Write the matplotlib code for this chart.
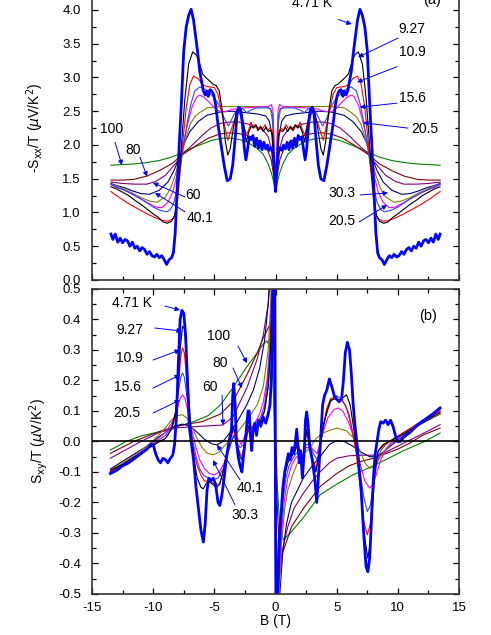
import numpy as np
import matplotlib.pyplot as plt
from matplotlib.ticker import MultipleLocator, FormatStrFormatter

plt.rcParams['font.family'] = ['Liberation Sans', 'DejaVu Sans']
plt.rcParams['axes.unicode_minus'] = False

# temperatures and colours (4.71 K drawn thick)
temps = ['100', '80', '60', '40.1', '30.3', '20.5', '15.6', '10.9', '9.27', '4.71']
colors = ['#008000', '#800000', '#800080', '#000080', '#808000',
          '#ff00ff', '#3344ff', '#ff0000', '#000000', '#0000ff']

# ---- panel (a): -Sxx/T, read on B >= 0 (curves are even in B) ----
sxx_100_b = [0, 0.15, 0.33, 0.6, 1.0, 1.5, 2.2, 2.9, 3.6, 4.4, 5.2, 6.2, 7.0, 7.7, 8.5, 9.5, 10.5, 11.5, 12.5, 13.45]
sxx_100 = [1.31, 1.45, 1.58, 1.72, 1.86, 1.95, 2.03, 2.08, 2.1, 2.1, 2.07, 2.0, 1.94, 1.88, 1.82, 1.77, 1.74, 1.72, 1.71, 1.70]
sxx_80_b = [0, 0.15, 0.35, 0.7, 1.2, 2.0, 3.0, 3.8, 4.6, 5.5, 6.5, 7.5, 8.5, 9.5, 10.5, 11.6, 12.5, 13.45]
sxx_80 = [1.31, 1.55, 1.78, 1.95, 2.05, 2.12, 2.17, 2.18, 2.16, 2.1, 1.99, 1.87, 1.72, 1.62, 1.54, 1.49, 1.48, 1.48]
sxx_60_b = [0, 0.15, 0.35, 0.6, 1.0, 2.0, 3.0, 3.8, 4.5, 5.3, 6.0, 6.8, 7.5, 8.2, 9.0, 9.8, 10.5, 11.5, 12.5, 13.45]
sxx_60 = [1.31, 1.62, 1.95, 2.12, 2.22, 2.3, 2.34, 2.34, 2.32, 2.25, 2.14, 2.0, 1.88, 1.72, 1.55, 1.46, 1.42, 1.42, 1.43, 1.45]
sxx_40_b = [0, 0.12, 0.3, 0.5, 0.8, 1.5, 2.5, 3.5, 4.5, 5.6, 6.3, 7.0, 7.4, 7.8, 8.3, 8.8, 9.5, 10.3, 11.0, 11.7, 12.4, 13.0, 13.45]
sxx_40 = [1.31, 1.7, 2.15, 2.35, 2.43, 2.46, 2.48, 2.5, 2.49, 2.44, 2.35, 2.2, 2.05, 1.85, 1.62, 1.45, 1.33, 1.27, 1.28, 1.32, 1.37, 1.4, 1.43]
sxx_30_b = [0, 0.1, 0.25, 0.4, 0.6, 1.5, 3.0, 4.5, 5.6, 6.2, 6.6, 7.0, 7.4, 7.8, 8.2, 8.6, 9.0, 9.7, 10.3, 11.0, 11.6, 12.2, 12.8, 13.45]
sxx_30 = [1.31, 1.8, 2.35, 2.52, 2.56, 2.57, 2.57, 2.57, 2.55, 2.48, 2.42, 2.3, 2.05, 1.82, 1.55, 1.35, 1.23, 1.15, 1.17, 1.22, 1.28, 1.33, 1.38, 1.42]
sxx_20_b = [0, 0.1, 0.2, 0.33, 0.6, 1.5, 2.5, 3.5, 4.0, 4.53, 5.0, 5.35, 5.8, 6.17, 6.4, 6.8, 7.2, 7.5, 7.8, 8.1, 8.4, 8.8, 9.3, 9.8, 10.5, 11.0, 11.5, 12.0, 12.5, 13.0, 13.45]
sxx_20 = [1.31, 1.95, 2.5, 2.6, 2.57, 2.56, 2.55, 2.53, 2.5, 2.49, 2.55, 2.62, 2.7, 2.74, 2.72, 2.58, 2.3, 2.05, 1.8, 1.52, 1.3, 1.15, 1.07, 1.08, 1.15, 1.2, 1.25, 1.3, 1.34, 1.37, 1.41]
sxx_15_b = [0, 0.1, 0.25, 0.4, 0.8, 1.5, 2.0, 2.35, 2.7, 3.03, 3.4, 3.85, 4.2, 4.53, 5.0, 5.35, 5.8, 6.2, 6.6, 6.9, 7.2, 7.5, 7.75, 8.0, 8.3, 8.6, 8.9, 9.4, 10.0, 10.5, 11.0, 11.5, 12.0, 12.5, 13.0, 13.45]
sxx_15 = [1.31, 1.9, 2.45, 2.54, 2.55, 2.55, 2.52, 2.48, 2.54, 2.56, 2.45, 2.28, 2.4, 2.57, 2.7, 2.76, 2.83, 2.86, 2.8, 2.62, 2.35, 2.0, 1.7, 1.4, 1.15, 1.04, 1.01, 1.03, 1.08, 1.14, 1.2, 1.25, 1.3, 1.34, 1.38, 1.42]
sxx_10_b = [0, 0.1, 0.25, 0.45, 0.65, 0.85, 1.05, 1.25, 1.45, 1.65, 1.85, 2.0, 2.2, 2.4, 2.6, 3.0, 3.4, 3.9, 4.3, 4.7, 5.0, 5.35, 5.7, 6.0, 6.3, 6.7, 7.0, 7.3, 7.55, 7.8, 8.0, 8.2, 8.45, 8.8, 9.2, 9.8, 10.5, 11.2, 11.9, 12.6, 13.45]
sxx_10 = [1.31, 1.8, 2.2, 2.25, 2.22, 2.3, 2.24, 2.28, 2.21, 2.3, 2.26, 2.34, 2.22, 2.15, 2.3, 2.5, 2.35, 2.07, 2.4, 2.75, 2.85, 2.86, 2.87, 2.9, 2.98, 3.02, 2.9, 2.55, 2.1, 1.6, 1.2, 0.97, 0.9, 0.87, 0.88, 0.92, 0.98, 1.05, 1.12, 1.2, 1.31]
sxx_9_b = [0, 0.1, 0.25, 0.4, 0.6, 0.8, 1.0, 1.2, 1.4, 1.6, 1.8, 2.0, 2.2, 2.4, 2.6, 2.8, 3.0, 3.2, 3.45, 3.7, 3.9, 4.1, 4.35, 4.6, 4.85, 5.1, 5.4, 5.7, 5.95, 6.2, 6.45, 6.77, 7.1, 7.4, 7.65, 7.85, 8.05, 8.25, 8.5, 8.85, 9.2, 9.6, 10.0, 10.5, 11.0, 11.5, 12.0, 12.5, 13.0, 13.45]
sxx_9 = [1.31, 1.75, 2.15, 2.22, 2.2, 2.26, 2.2, 2.27, 2.22, 2.3, 2.25, 2.28, 2.18, 2.05, 2.3, 2.5, 2.56, 2.5, 2.25, 1.95, 1.85, 2.05, 2.5, 2.8, 2.88, 2.9, 2.95, 3.0, 3.05, 3.2, 3.33, 3.38, 3.2, 2.7, 2.1, 1.6, 1.2, 0.95, 0.87, 0.84, 0.86, 0.93, 0.98, 1.05, 1.12, 1.18, 1.25, 1.3, 1.35, 1.38]
sxx_4_b = [0, 0.08, 0.2, 0.35, 0.5, 0.65, 0.8, 0.95, 1.1, 1.25, 1.4, 1.55, 1.7, 1.85, 2.0, 2.15, 2.3, 2.42, 2.55, 2.7, 2.85, 3.0, 3.15, 3.3, 3.5, 3.7, 3.95, 4.2, 4.45, 4.7, 4.9, 5.05, 5.2, 5.35, 5.5, 5.6, 5.75, 5.9, 6.05, 6.2, 6.35, 6.5, 6.7, 6.9, 7.1, 7.3, 7.5, 7.7, 7.9, 8.05, 8.2, 8.35, 8.5, 8.7, 8.9, 9.1, 9.3, 9.5, 9.7, 9.9, 10.1, 10.3, 10.5, 10.7, 10.9, 11.1, 11.3, 11.5, 11.7, 11.9, 12.1, 12.3, 12.5, 12.7, 12.9, 13.1, 13.3, 13.45]
sxx_4 = [1.31, 1.6, 1.88, 1.96, 1.92, 2.0, 1.94, 2.04, 1.93, 2.06, 1.95, 2.1, 1.98, 2.14, 2.08, 2.12, 1.92, 1.78, 1.95, 2.3, 2.52, 2.56, 2.45, 2.1, 1.7, 1.5, 1.47, 1.7, 2.0, 2.3, 2.6, 2.74, 2.8, 2.82, 2.72, 2.8, 2.74, 2.8, 2.95, 3.1, 3.35, 3.56, 3.85, 4.01, 3.92, 3.75, 3.4, 2.6, 1.9, 1.3, 0.7, 0.4, 0.33, 0.3, 0.23, 0.3, 0.36, 0.33, 0.38, 0.34, 0.36, 0.42, 0.38, 0.45, 0.48, 0.43, 0.5, 0.47, 0.56, 0.5, 0.58, 0.6, 0.55, 0.62, 0.56, 0.68, 0.6, 0.68]

# ---- panel (b): Sxy/T over the full field range ----
sxy_100_b = [-13.5, -12.2, -11, -9.7, -8.5, -7.5, -6.5, -5.5, -4.5, -3.5, -2.35, -1.5, -1.0, -0.7, -0.45, -0.25, -0.1, 0, 0.15, 0.35, 0.64, 1.2, 2.27, 3.64, 5.0, 6.3, 7.7, 9.0, 10.45, 12.2, 13.45]
sxy_100 = [-0.028, 0.0, 0.018, 0.03, 0.045, 0.055, 0.068, 0.085, 0.12, 0.175, 0.245, 0.29, 0.32, 0.33, 0.31, 0.22, 0.1, 0.0, -0.15, -0.28, -0.323, -0.3, -0.25, -0.175, -0.14, -0.11, -0.085, -0.06, -0.03, 0.0, 0.028]
sxy_80_b = [-13.5, -11.6, -10, -8.5, -7.5, -6, -4.5, -3.5, -2.35, -1.5, -1.0, -0.5, -0.3, -0.15, 0, 0.15, 0.3, 0.45, 0.8, 1.3, 2.27, 3.64, 5.0, 6.0, 7.0, 8.0, 9.0, 10.0, 11.0, 12.0, 13.45]
sxy_80 = [-0.039, 0.0, 0.025, 0.045, 0.055, 0.065, 0.09, 0.13, 0.218, 0.29, 0.34, 0.38, 0.33, 0.2, 0.0, -0.22, -0.34, -0.378, -0.34, -0.28, -0.22, -0.148, -0.105, -0.08, -0.065, -0.055, -0.04, -0.025, -0.005, 0.02, 0.044]
sxy_60_b = [-13.5, -11.0, -9.5, -8, -6, -4.3, -3.5, -2.35, -1.5, -1.0, -0.6, -0.4, -0.2, 0.15, 0.3, 0.6, 1.0, 1.5, 2.27, 3.0, 3.64, 4.4, 5.0, 6.0, 7.0, 8.0, 8.8, 9.5, 10.5, 11.5, 12.5, 13.45]
sxy_60 = [-0.055, 0.0, 0.03, 0.045, 0.05, 0.054, 0.08, 0.175, 0.27, 0.35, 0.45, 0.55, 0.8, -0.6, -0.45, -0.35, -0.28, -0.22, -0.17, -0.13, -0.1, -0.07, -0.055, -0.047, -0.045, -0.045, -0.04, -0.025, -0.005, 0.015, 0.035, 0.055]
sxy_40_b = [-13.5, -12.5, -11.5, -10.5, -9.7, -9, -8.3, -7.6, -7.0, -6.4, -5.8, -5.2, -4.8, -4.3, -3.8, -3.2, -2.35, -1.8, -1.3, -0.9, -0.6, -0.4, -0.25, 0.12, 0.35, 0.6, 0.9, 1.3, 2.27, 3.0, 3.64, 4.4, 5.0, 5.6, 6.3, 7.0, 7.7, 8.3, 8.8, 9.4, 10.0, 11.0, 12.0, 13.45]
sxy_40 = [-0.09, -0.065, -0.04, -0.015, 0.01, 0.03, 0.05, 0.057, 0.05, 0.03, 0.007, -0.008, -0.011, 0.0, 0.025, 0.06, 0.12, 0.17, 0.24, 0.33, 0.45, 0.6, 0.8, -0.8, -0.5, -0.36, -0.27, -0.2, -0.12, -0.08, -0.05, -0.01, 0.003, 0.0, -0.015, -0.035, -0.05, -0.05, -0.035, -0.015, 0.005, 0.035, 0.06, 0.09]
sxy_30_b = [-13.5, -12.5, -11.5, -10.5, -9.7, -9, -8.5, -8, -7.6, -7.2, -6.8, -6.4, -6.0, -5.6, -5.1, -4.6, -4.2, -3.5, -2.35, -1.5, -1.0, -0.6, -0.4, -0.25, 0.1, 0.3, 0.5, 0.75, 1.0, 1.4, 1.8, 2.3, 2.8, 3.3, 4.0, 5.0, 5.8, 6.4, 6.9, 7.3, 7.7, 8.1, 8.5, 9.0, 9.5, 10.2, 11.0, 12.0, 13.45]
sxy_30 = [-0.095, -0.07, -0.045, -0.015, 0.015, 0.045, 0.07, 0.085, 0.088, 0.075, 0.045, 0.01, -0.02, -0.038, -0.044, -0.035, -0.015, 0.01, 0.07, 0.12, 0.18, 0.3, 0.45, 0.7, -0.8, -0.5, -0.33, -0.22, -0.16, -0.11, -0.07, -0.04, -0.022, 0.01, 0.03, 0.044, 0.035, 0.01, -0.03, -0.07, -0.088, -0.08, -0.055, -0.025, 0.0, 0.02, 0.04, 0.065, 0.09]
sxy_20_b = [-13.5, -12.5, -11.5, -10.5, -9.7, -9, -8.5, -8.1, -7.8, -7.6, -7.4, -7.1, -6.8, -6.5, -6.2, -5.8, -5.4, -5.0, -4.6, -4.2, -3.9, -3.6, -3.4, -3.1, -2.8, -2.5, -2.1, -1.7, -1.3, -1.0, -0.7, -0.5, -0.35, -0.22, 0.08, 0.3, 0.5, 0.7, 1.0, 1.3, 1.7, 2.1, 2.5, 2.9, 3.4, 3.8, 4.3, 4.8, 5.1, 5.5, 6.0, 6.5, 6.9, 7.3, 7.7, 8.0, 8.3, 8.6, 9.0, 9.4, 10.0, 11.0, 12.0, 13.45]
sxy_20 = [-0.1, -0.075, -0.048, -0.02, 0.005, 0.03, 0.06, 0.1, 0.14, 0.153, 0.14, 0.09, 0.03, -0.02, -0.06, -0.09, -0.105, -0.11, -0.1, -0.07, -0.03, 0.0, 0.02, 0.01, -0.01, 0.02, 0.04, 0.06, 0.09, 0.13, 0.2, 0.3, 0.45, 0.7, -0.8, -0.45, -0.3, -0.2, -0.12, -0.08, -0.05, -0.06, -0.02, -0.02, -0.04, 0.02, 0.08, 0.105, 0.11, 0.1, 0.06, 0.0, -0.07, -0.13, -0.153, -0.14, -0.1, -0.06, -0.03, -0.01, 0.01, 0.04, 0.07, 0.1]
sxy_15_b = [-13.5, -12.5, -11.5, -10.5, -9.7, -9, -8.5, -8.2, -7.95, -7.75, -7.6, -7.45, -7.25, -7.0, -6.8, -6.5, -6.2, -5.9, -5.5, -5.1, -4.7, -4.3, -4.0, -3.7, -3.45, -3.2, -2.9, -2.6, -2.3, -2.0, -1.6, -1.2, -0.9, -0.65, -0.45, -0.3, -0.15, 0.05, 0.25, 0.4, 0.6, 0.85, 1.1, 1.5, 1.9, 2.2, 2.5, 2.8, 3.1, 3.4, 3.7, 4.1, 4.5, 5.0, 5.4, 5.8, 6.2, 6.6, 6.9, 7.2, 7.5, 7.75, 8.0, 8.3, 8.6, 9.0, 9.5, 10.3, 11.3, 12.4, 13.45]
sxy_15 = [-0.1, -0.078, -0.05, -0.022, 0.0, 0.02, 0.05, 0.09, 0.16, 0.21, 0.225, 0.21, 0.15, 0.07, 0.01, -0.05, -0.09, -0.11, -0.12, -0.125, -0.12, -0.09, -0.05, -0.015, 0.02, 0.0, -0.02, -0.01, 0.03, 0.04, 0.06, 0.08, 0.12, 0.2, 0.32, 0.5, 0.8, -0.8, -0.5, -0.33, -0.2, -0.12, -0.08, -0.05, -0.03, -0.05, -0.01, -0.01, -0.04, -0.06, 0.0, 0.08, 0.13, 0.15, 0.14, 0.11, 0.05, -0.03, -0.1, -0.18, -0.23, -0.21, -0.14, -0.07, -0.03, -0.01, 0.005, 0.025, 0.05, 0.08, 0.105]
sxy_10_b = [-13.5, -12.5, -11.5, -10.5, -9.7, -9, -8.5, -8.2, -7.95, -7.75, -7.6, -7.45, -7.3, -7.1, -6.9, -6.7, -6.4, -6.1, -5.8, -5.5, -5.2, -4.9, -4.6, -4.35, -4.1, -3.8, -3.45, -3.2, -2.9, -2.75, -2.5, -2.2, -1.9, -1.5, -1.2, -0.9, -0.6, -0.4, -0.25, -0.12, 0.05, 0.25, 0.4, 0.6, 0.8, 1.0, 1.3, 1.6, 1.85, 2.05, 2.2, 2.4, 2.55, 2.75, 3.0, 3.3, 3.6, 3.9, 4.2, 4.5, 4.8, 5.1, 5.4, 5.7, 6.0, 6.3, 6.6, 6.9, 7.2, 7.5, 7.75, 7.95, 8.15, 8.4, 8.8, 9.3, 9.8, 10.5, 11.5, 12.5, 13.45]
sxy_10 = [-0.1, -0.078, -0.052, -0.025, -0.005, 0.01, 0.04, 0.08, 0.17, 0.28, 0.307, 0.29, 0.22, 0.12, 0.03, -0.03, -0.08, -0.11, -0.13, -0.13, -0.135, -0.14, -0.14, -0.11, -0.06, -0.01, 0.04, 0.0, -0.04, -0.05, -0.01, 0.04, 0.03, 0.05, 0.07, 0.1, 0.18, 0.32, 0.52, 0.8, -0.8, -0.45, -0.27, -0.16, -0.1, -0.07, -0.05, -0.03, -0.01, -0.05, -0.07, -0.01, 0.03, 0.0, -0.05, -0.09, -0.03, 0.05, 0.11, 0.14, 0.145, 0.13, 0.135, 0.12, 0.09, 0.03, -0.04, -0.14, -0.26, -0.306, -0.27, -0.17, -0.08, -0.03, -0.015, 0.0, 0.012, 0.03, 0.055, 0.078, 0.1]
sxy_9_b = [-13.5, -12.5, -11.5, -10.5, -9.7, -9, -8.5, -8.2, -8.0, -7.8, -7.6, -7.45, -7.3, -7.1, -6.9, -6.7, -6.4, -6.1, -5.9, -5.7, -5.5, -5.3, -5.0, -4.8, -4.55, -4.3, -4.0, -3.75, -3.6, -3.45, -3.3, -3.1, -2.9, -2.75, -2.6, -2.4, -2.2, -2.0, -1.8, -1.5, -1.2, -0.9, -0.6, -0.4, -0.25, -0.12, 0.1, 0.25, 0.4, 0.6, 0.8, 1.0, 1.3, 1.6, 1.8, 2.0, 2.2, 2.4, 2.55, 2.7, 3.0, 3.3, 3.6, 3.9, 4.2, 4.5, 4.8, 5.1, 5.4, 5.8, 6.1, 6.4, 6.7, 7.0, 7.3, 7.55, 7.75, 7.95, 8.15, 8.4, 8.8, 9.3, 10.0, 10.5, 11.5, 12.5, 13.45]
sxy_9 = [-0.095, -0.075, -0.05, -0.025, -0.005, 0.01, 0.04, 0.09, 0.16, 0.3, 0.378, 0.37, 0.3, 0.16, 0.03, -0.05, -0.12, -0.15, -0.155, -0.14, -0.13, -0.135, -0.145, -0.15, -0.14, -0.1, -0.04, 0.0, 0.02, 0.05, 0.03, -0.02, -0.05, -0.06, -0.03, 0.02, 0.05, 0.03, 0.04, 0.05, 0.07, 0.1, 0.18, 0.3, 0.5, 0.8, -0.8, -0.45, -0.28, -0.17, -0.1, -0.07, -0.05, -0.03, 0.0, -0.04, -0.08, 0.0, 0.04, 0.0, -0.06, -0.1, -0.03, 0.05, 0.1, 0.135, 0.14, 0.135, 0.14, 0.153, 0.12, 0.04, -0.05, -0.17, -0.32, -0.383, -0.33, -0.2, -0.09, -0.03, -0.01, 0.0, 0.015, 0.025, 0.05, 0.075, 0.095]
sxy_4_b = [-13.5, -13, -12.5, -12, -11.5, -11, -10.5, -10.2, -10.0, -9.8, -9.6, -9.4, -9.2, -9.0, -8.8, -8.6, -8.4, -8.25, -8.1, -7.95, -7.8, -7.65, -7.5, -7.35, -7.2, -7.05, -6.9, -6.7, -6.5, -6.3, -6.1, -5.9, -5.75, -5.6, -5.45, -5.3, -5.1, -4.9, -4.7, -4.55, -4.4, -4.2, -4.0, -3.8, -3.6, -3.5, -3.42, -3.3, -3.2, -3.05, -2.9, -2.75, -2.6, -2.4, -2.25, -2.15, -2.05, -1.95, -1.85, -1.7, -1.55, -1.4, -1.2, -1.0, -0.8, -0.6, -0.45, -0.35, -0.25, -0.15, -0.08, 0.05, 0.15, 0.3, 0.45, 0.6, 0.75, 0.9, 1.05, 1.2, 1.35, 1.5, 1.6, 1.73, 1.85, 1.95, 2.05, 2.2, 2.35, 2.45, 2.55, 2.65, 2.8, 3.0, 3.2, 3.37, 3.5, 3.7, 3.85, 4.0, 4.2, 4.4, 4.6, 4.8, 5.0, 5.2, 5.4, 5.55, 5.7, 5.87, 6.05, 6.2, 6.35, 6.5, 6.64, 6.8, 7.0, 7.2, 7.4, 7.55, 7.7, 7.85, 8.0, 8.15, 8.3, 8.45, 8.6, 8.8, 9.0, 9.2, 9.4, 9.6, 9.8, 9.95, 10.2, 10.5, 11, 11.5, 12, 12.5, 13, 13.45]
sxy_4 = [-0.105, -0.095, -0.08, -0.07, -0.055, -0.04, -0.025, -0.01, -0.01, -0.04, -0.06, -0.07, -0.055, -0.06, -0.07, -0.055, -0.045, -0.01, 0.08, 0.25, 0.4, 0.43, 0.42, 0.35, 0.2, 0.05, 0.0, -0.06, -0.15, -0.22, -0.29, -0.33, -0.27, -0.16, -0.12, -0.13, -0.12, -0.14, -0.2, -0.21, -0.18, -0.12, -0.05, 0.0, 0.04, 0.15, 0.19, 0.12, 0.0, -0.05, -0.08, -0.1, -0.04, 0.03, 0.1, 0.1, 0.02, -0.03, 0.03, 0.06, 0.02, 0.07, 0.05, 0.08, 0.06, 0.09, 0.12, 0.2, 0.35, 0.55, 0.8, -0.8, -0.5, -0.33, -0.24, -0.15, -0.1, -0.07, -0.04, -0.06, -0.02, -0.04, -0.01, 0.04, -0.02, -0.07, -0.03, -0.12, -0.03, 0.07, 0.097, 0.06, -0.02, -0.06, -0.12, -0.2, -0.12, 0.02, 0.12, 0.15, 0.17, 0.205, 0.18, 0.15, 0.14, 0.13, 0.14, 0.2, 0.29, 0.325, 0.3, 0.22, 0.12, 0.05, 0.0, -0.07, -0.16, -0.3, -0.41, -0.427, -0.38, -0.25, -0.12, -0.04, 0.0, 0.04, 0.065, 0.06, 0.07, 0.055, 0.07, 0.05, 0.02, 0.0, 0.0, 0.015, 0.03, 0.05, 0.065, 0.08, 0.095, 0.11]

sxx_b = [sxx_100_b, sxx_80_b, sxx_60_b, sxx_40_b, sxx_30_b, sxx_20_b, sxx_15_b, sxx_10_b, sxx_9_b, sxx_4_b]
sxx_v = [sxx_100, sxx_80, sxx_60, sxx_40, sxx_30, sxx_20, sxx_15, sxx_10, sxx_9, sxx_4]
sxy_b = [sxy_100_b, sxy_80_b, sxy_60_b, sxy_40_b, sxy_30_b, sxy_20_b, sxy_15_b, sxy_10_b, sxy_9_b, sxy_4_b]
sxy_v = [sxy_100, sxy_80, sxy_60, sxy_40, sxy_30, sxy_20, sxy_15, sxy_10, sxy_9, sxy_4]

fig = plt.figure(figsize=(4.91, 6.35), dpi=100)
ax1 = fig.add_axes([0.1874, 0.5591, 0.7475, 0.4783])
ax2 = fig.add_axes([0.1874, 0.0646, 0.7475, 0.4803])

for i in range(len(temps)):
    lw = 2.0 if temps[i] == '4.71' else 0.8
    b = np.array(sxx_b[i])
    v = np.array(sxx_v[i])
    ax1.plot(np.concatenate([-b[::-1], b[1:]]), np.concatenate([v[::-1], v[1:]]),
             color=colors[i], lw=lw)
    ax2.plot(sxy_b[i], sxy_v[i], color=colors[i], lw=lw)

ax2.axhline(0, color='black', lw=1.2, zorder=3)

for ax in (ax1, ax2):
    ax.set_xlim(-15, 15)
    ax.xaxis.set_major_locator(MultipleLocator(5))
    ax.xaxis.set_minor_locator(MultipleLocator(2.5))
    ax.tick_params(which='both', direction='in', top=True, right=True, labelsize=9.5)
    ax.tick_params(which='major', length=4.3, width=0.9)
    ax.tick_params(which='minor', length=2.9, width=0.9)
    ax.tick_params(axis='y', pad=8)
    for s in ax.spines.values():
        s.set_linewidth(1.2)
        s.set_color('#333333')

ax1.set_ylim(0, 4.5)
ax1.yaxis.set_major_locator(MultipleLocator(0.5))
ax1.yaxis.set_minor_locator(MultipleLocator(0.25))
ax1.yaxis.set_major_formatter(FormatStrFormatter('%.1f'))
ax1.tick_params(labelbottom=False)
ax1.set_ylabel(r'-S$_{\rm xx}$/T ($\mu$V/K$^2$)', fontsize=10)
ax1.yaxis.set_label_coords(-0.125, 0.5)

ax2.set_ylim(-0.5, 0.5)
ax2.yaxis.set_major_locator(MultipleLocator(0.1))
ax2.yaxis.set_minor_locator(MultipleLocator(0.05))
ax2.yaxis.set_major_formatter(FormatStrFormatter('%.1f'))
ax2.tick_params(axis='x', pad=6)
ax2.set_ylabel(r'S$_{\rm xy}$/T ($\mu$V/K$^2$)', fontsize=10)
ax2.yaxis.set_label_coords(-0.115, 0.5)
ax2.set_xlabel('B (T)', fontsize=10)
ax2.xaxis.set_label_coords(0.5, -0.066)

arrow = dict(arrowstyle='-|>', color='#0000ff', lw=0.7, mutation_scale=7,
             shrinkA=0, shrinkB=0)

# panel (a) labels: (text, text x, text y, tail x, tail y, head x, head y)
labels_a = [('4.71 K', 3.0, 4.10, 5.13, 3.86, 6.23, 3.79),
            ('9.27', 11.16, 3.72, 10.02, 3.585, 6.75, 3.30),
            ('10.9', 11.16, 3.38, 9.93, 3.16, 6.66, 2.93),
            ('15.6', 11.16, 2.70, 9.93, 2.62, 6.91, 2.56),
            ('20.5', 12.22, 2.24, 10.83, 2.25, 7.15, 2.33),
            ('100', -13.37, 2.24, -13.12, 2.04, -12.55, 1.70),
            ('80', -11.65, 1.93, -11.08, 1.82, -10.5, 1.53),
            ('60', -6.75, 1.26, -7.40, 1.23, -10.02, 1.44),
            ('40.1', -6.17, 0.92, -7.40, 1.01, -9.85, 1.29),
            ('30.3', 5.44, 1.29, 6.91, 1.26, 9.2, 1.29),
            ('20.5', 5.44, 0.87, 6.83, 0.86, 9.12, 1.11)]
for t, tx, ty, ax_, ay_, hx, hy in labels_a:
    ax1.text(tx, ty, t, fontsize=10, ha='center', va='center')
    ax1.annotate('', xy=(hx, hy), xytext=(ax_, ay_), arrowprops=arrow)
ax1.text(12.8, 4.15, '(a)', fontsize=10.5, ha='center', va='center')

labels_b = [('4.71 K', -11.73, 0.454, -9.04, 0.444, -7.81, 0.431),
            ('9.27', -11.94, 0.366, -9.85, 0.372, -7.65, 0.362),
            ('10.9', -11.94, 0.274, -10.02, 0.267, -7.81, 0.30),
            ('15.6', -12.14, 0.179, -10.02, 0.175, -7.81, 0.218),
            ('20.5', -12.14, 0.093, -10.02, 0.093, -7.81, 0.136),
            ('100', -4.62, 0.346, -3.07, 0.313, -2.33, 0.257),
            ('80', -4.54, 0.257, -3.48, 0.241, -2.74, 0.175),
            ('60', -5.36, 0.179, -4.37, 0.152, -4.29, 0.054),
            ('40.1', -2.09, -0.152, -2.9, -0.126, -4.78, -0.011),
            ('30.3', -2.49, -0.241, -3.31, -0.208, -5.11, -0.061)]
for t, tx, ty, ax_, ay_, hx, hy in labels_b:
    ax2.text(tx, ty, t, fontsize=10, ha='center', va='center')
    ax2.annotate('', xy=(hx, hy), xytext=(ax_, ay_), arrowprops=arrow)
ax2.text(12.47, 0.411, '(b)', fontsize=10.5, ha='center', va='center')

fig.savefig('out.png', dpi=100)
